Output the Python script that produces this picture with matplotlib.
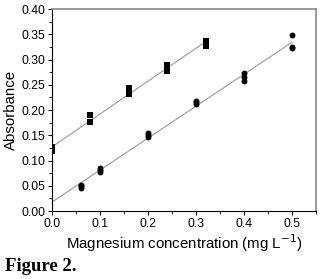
import numpy as np
import matplotlib.pyplot as plt
from matplotlib.ticker import MultipleLocator

# upper series (squares)
x_sq = [0.0, 0.0, 0.0, 0.08, 0.08, 0.08, 0.16, 0.16, 0.16, 0.24, 0.24, 0.24, 0.32, 0.32, 0.32]
y_sq = [0.118, 0.122, 0.126, 0.190, 0.177, 0.176, 0.244, 0.238, 0.232, 0.289, 0.283, 0.277, 0.337, 0.331, 0.326]

# lower series (circles)
x_ci = [0.06, 0.06, 0.06, 0.10, 0.10, 0.10, 0.20, 0.20, 0.20, 0.30, 0.30, 0.30, 0.40, 0.40, 0.40, 0.50, 0.50, 0.50]
y_ci = [0.052, 0.049, 0.046, 0.085, 0.081, 0.078, 0.154, 0.150, 0.147, 0.218, 0.215, 0.212, 0.273, 0.265, 0.258, 0.348, 0.325, 0.323]

plt.rcParams['font.family'] = ['Liberation Sans', 'DejaVu Sans']

fig = plt.figure(figsize=(3.22, 2.79), dpi=100)
ax = fig.add_axes([0.1615, 0.2437, 0.8195, 0.724])

# fitted lines
p1 = np.polyfit(x_sq, y_sq, 1)
xs = np.array([0.0, 0.32])
ax.plot(xs, np.polyval(p1, xs), color='#999999', lw=0.8, zorder=1)
p2 = np.polyfit(x_ci, y_ci, 1)
xc = np.array([0.0, 0.5])
ax.plot(xc, np.polyval(p2, xc), color='#999999', lw=0.8, zorder=1)

ax.scatter(x_sq, y_sq, marker='s', s=16, color='black', zorder=2, linewidths=0)
ax.scatter(x_ci, y_ci, marker='o', s=18, color='black', zorder=2, linewidths=0)

ax.set_xlim(0, 0.55)
ax.set_ylim(0, 0.40)
ax.xaxis.set_minor_locator(MultipleLocator(0.05))
ax.yaxis.set_major_locator(MultipleLocator(0.05))
ax.yaxis.set_minor_locator(MultipleLocator(0.025))
ax.set_xticks([0.0, 0.1, 0.2, 0.3, 0.4, 0.5])
ax.set_xticklabels(['0.0', '0.1', '0.2', '0.3', '0.4', '0.5'])
ax.yaxis.set_major_formatter(plt.FormatStrFormatter('%.2f'))
ax.tick_params(which='major', direction='out', length=3, width=0.8, labelsize=8.8, pad=2)
ax.tick_params(which='minor', direction='out', length=2, width=0.6)
for s in ['top', 'right']:
    ax.spines[s].set_color('#888888')
    ax.spines[s].set_linewidth(1.2)
for s in ['left', 'bottom']:
    ax.spines[s].set_linewidth(0.8)

ax.set_xlabel('Magnesium concentration (mg L$^{-1}$)', fontsize=10.8, labelpad=2)
ax.set_ylabel('Absorbance', fontsize=10.8, labelpad=2)

fig.text(0.016, 0.028, 'Figure 2.', family='Liberation Serif', fontweight='bold', fontsize=13.5)

fig.savefig('out.png', dpi=100)
